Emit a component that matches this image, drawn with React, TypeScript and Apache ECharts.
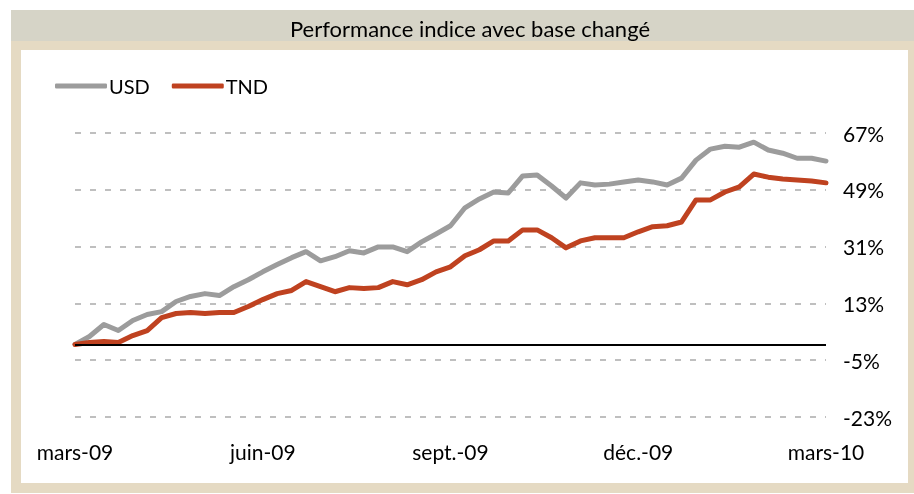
import React, { useEffect, useRef } from "react";
import * as echarts from "echarts";

const weeks: string[] = [
  "2009-03-02","2009-03-09","2009-03-16","2009-03-23","2009-03-30",
  "2009-04-06","2009-04-13","2009-04-20","2009-04-27",
  "2009-05-04","2009-05-11","2009-05-18","2009-05-25",
  "2009-06-01","2009-06-08","2009-06-15","2009-06-22","2009-06-29",
  "2009-07-06","2009-07-13","2009-07-20","2009-07-27",
  "2009-08-03","2009-08-10","2009-08-17","2009-08-24","2009-08-31",
  "2009-09-07","2009-09-14","2009-09-21","2009-09-28",
  "2009-10-05","2009-10-12","2009-10-19","2009-10-26",
  "2009-11-02","2009-11-09","2009-11-16","2009-11-23","2009-11-30",
  "2009-12-07","2009-12-14","2009-12-21","2009-12-28",
  "2010-01-04","2010-01-11","2010-01-18","2010-01-25",
  "2010-02-01","2010-02-08","2010-02-15","2010-02-22","2010-03-01",
];

const usd: number[] = [
  0, 2.5, 6.3, 4.4, 7.6, 9.5, 10.4, 13.6, 15.2, 16.1,
  15.5, 18.3, 20.5, 23.0, 25.3, 27.5, 29.4, 26.5, 27.8, 29.7,
  29.0, 30.9, 30.9, 29.4, 32.5, 35.0, 37.6, 43.3, 46.1, 48.3,
  48.0, 53.4, 53.7, 50.2, 46.4, 51.2, 50.5, 50.8, 51.5, 52.1,
  51.5, 50.5, 52.7, 58.4, 61.9, 62.8, 62.5, 64.1, 61.6, 60.6,
  59.0, 59.0, 58.1,
];

const tnd: number[] = [
  0, 0.6, 0.9, 0.6, 2.8, 4.4, 8.5, 9.8, 10.1, 9.8,
  10.1, 10.1, 12.0, 14.2, 16.1, 17.1, 19.9, 18.3, 16.7, 18.0,
  17.7, 18.0, 19.9, 18.9, 20.5, 23.0, 24.6, 28.1, 30.0, 32.8,
  32.8, 36.3, 36.3, 33.8, 30.6, 32.8, 33.8, 33.8, 33.8, 35.7,
  37.3, 37.6, 38.8, 45.8, 45.8, 48.3, 49.9, 54.0, 53.0, 52.4,
  52.1, 51.8, 51.2,
];

const tickDates: string[] = ["2009-03-02", "2009-06-01", "2009-08-31", "2009-11-30", "2010-03-01"];
const tickLabels: string[] = ["mars-09", "juin-09", "sept.-09", "déc.-09", "mars-10"];

const yMin = -23; // lowest tick of the value axis (%)
const yStep = 18;
const yCount = 5;

const FONT = "Lato";

export default function App() {
  const ref = useRef<HTMLDivElement>(null);
  useEffect(() => {
    if (!ref.current) return;
    const chart = echarts.init(ref.current, null, { renderer: "svg" });
    const shift = (v: number) => v - yMin;
    chart.setOption({
      animation: false,
      backgroundColor: "transparent",
      textStyle: { fontFamily: FONT },
      graphic: [
        { type: "rect", z: -10, shape: { x: 11, y: 10, width: 903, height: 483 }, style: { fill: "#e5dac3" }, silent: true },
        { type: "rect", z: -9, shape: { x: 11, y: 10, width: 903, height: 31 }, style: { fill: "#d6d4c7" }, silent: true },
        { type: "rect", z: -9, shape: { x: 21, y: 50, width: 887, height: 433 }, style: { fill: "#ffffff" }, silent: true },
      ],
      title: {
        text: "Performance indice avec base changé",
        left: 465,
        textAlign: "center",
        top: 12,
        textStyle: { fontFamily: FONT, fontSize: 22, fontWeight: "normal", color: "#000" },
      },
      legend: {
        data: ["USD", "TND"],
        left: 50,
        top: 71,
        icon: "roundRect",
        itemWidth: 52,
        itemHeight: 5,
        itemGap: 22,
        textStyle: { fontFamily: FONT, fontSize: 20, color: "#000", padding: [0, 0, 0, -3] },
      },
      grid: { left: 75, right: 88, top: 133, bottom: 77 },
      xAxis: {
        type: "category",
        data: weeks,
        boundaryGap: false,
        axisLine: { show: false },
        axisTick: { show: false },
        splitLine: { show: false },
        axisLabel: {
          interval: (_i: number, v: string) => tickDates.includes(v),
          formatter: (v: string) => {
            const k = tickDates.indexOf(v);
            return k >= 0 ? tickLabels[k] : "";
          },
          margin: 24,
          fontFamily: FONT,
          fontSize: 21,
          color: "#000",
        },
      },
      yAxis: {
        type: "value",
        position: "right",
        min: 0,
        max: yStep * yCount,
        interval: yStep,
        axisLine: { show: false },
        axisTick: { show: false },
        axisLabel: {
          formatter: (v: number) => `${v + yMin}%`,
          margin: 17,
          fontFamily: FONT,
          fontSize: 21,
          color: "#000",
        },
        splitLine: { show: true, lineStyle: { color: "#bfbfbf", width: 2, type: [6, 9] } },
      },
      series: [
        {
          name: "zero",
          type: "line",
          data: [],
          silent: true,
          markLine: {
            silent: true,
            symbol: "none",
            label: { show: false },
            lineStyle: { color: "#000", width: 2, type: "solid" },
            data: [{ yAxis: shift(0) }],
          },
        },
        {
          name: "USD",
          type: "line",
          data: usd.map(shift),
          showSymbol: false,
          symbol: "none",
          color: "#9c9c9c",
          lineStyle: { width: 5, color: "#9c9c9c", cap: "round", join: "round" },
        },
        {
          name: "TND",
          type: "line",
          data: tnd.map(shift),
          showSymbol: false,
          symbol: "none",
          color: "#bf4220",
          lineStyle: { width: 5, color: "#bf4220", cap: "round", join: "round" },
        },
      ],
    });
    return () => chart.dispose();
  }, []);
  return <div ref={ref} style={{ position: "fixed", left: 0, top: 0, width: 914, height: 494 }} />;
}
